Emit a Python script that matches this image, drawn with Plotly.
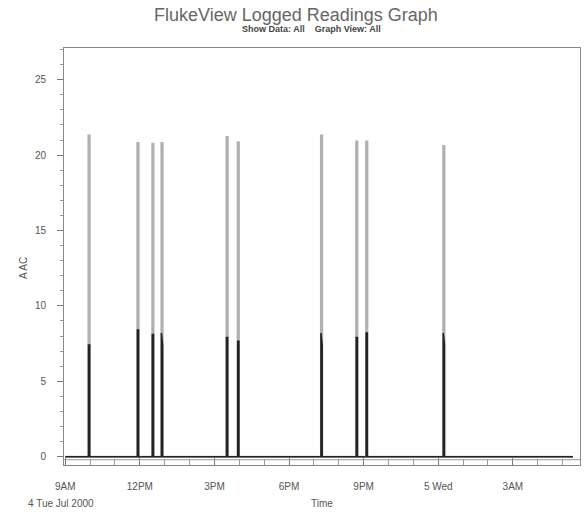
import plotly.graph_objects as go
import pandas as pd

# ---- data ----
log_start = "2000-07-04 09:00"
log_end = "2000-07-05 05:25"
event_start = ["2000-07-04 09:56", "2000-07-04 11:54", "2000-07-04 12:30", "2000-07-04 12:52",
               "2000-07-04 15:29", "2000-07-04 15:56", "2000-07-04 19:17", "2000-07-04 20:42",
               "2000-07-04 21:06", "2000-07-05 00:12"]
event_minutes = [3, 3, 3, 3, 3, 3, 3, 3, 3, 3]
event_max = [21.3, 20.8, 20.75, 20.8, 21.2, 20.85, 21.3, 20.9, 20.9, 20.6]
event_avg_a = [7.4, 8.4, 8.1, 8.2, 7.9, 7.65, 8.2, 7.9, 8.2, 8.2]
event_avg_b = [7.4, 8.4, 8.1, 7.4, 7.9, 7.65, 7.35, 7.9, 8.2, 7.5]

tick_vals = ["2000-07-04 09:00", "2000-07-04 12:00", "2000-07-04 15:00", "2000-07-04 18:00",
             "2000-07-04 21:00", "2000-07-05 00:00", "2000-07-05 03:00"]
tick_text = ["9AM", "12PM", "3PM", "6PM", "9PM", "5 Wed", "3AM"]
y_tick_vals = [0, 5, 10, 15, 20, 25]

# ---- build series from the event table ----
mx_t, mx_v, av_t, av_v = [pd.Timestamp(log_start)], [0], [pd.Timestamp(log_start)], [0]
for s, d, m, a1, a2 in zip(event_start, event_minutes, event_max, event_avg_a, event_avg_b):
    t0 = pd.Timestamp(s)
    t1 = t0 + pd.Timedelta(minutes=d)
    mx_t += [t0, t0, t1, t1]
    mx_v += [0, m, m, 0]
    av_t += [t0, t0, t1, t1]
    av_v += [0, a1, a2, 0]
mx_t.append(pd.Timestamp(log_end)); mx_v.append(0)
av_t.append(pd.Timestamp(log_end)); av_v.append(0)

fig = go.Figure()
fig.add_trace(go.Scatter(x=mx_t, y=mx_v, mode="lines",
                         line=dict(color="#b0b0b0", width=2), hoverinfo="skip"))
fig.add_trace(go.Scatter(x=av_t, y=av_v, mode="lines",
                         line=dict(color="#222222", width=1.5), hoverinfo="skip"))

fig.add_shape(type="line", xref="paper", yref="y", x0=0, x1=1, y0=-0.2, y1=-0.2,
              line=dict(color="#999999", width=1))

font = "Liberation Sans, Arial, sans-serif"
fig.update_layout(
    width=587, height=512,
    margin=dict(l=64, r=7, t=48, b=47, autoexpand=False),
    paper_bgcolor="white", plot_bgcolor="white",
    showlegend=False,
    font=dict(family=font, color="#555555", size=10),
    xaxis=dict(
        type="date", automargin=False,
        range=["2000-07-04 08:57", "2000-07-05 05:42"],
        tickvals=tick_vals, ticktext=tick_text,
        ticks="inside", ticklen=8, tickcolor="#777777",
        minor=dict(dtick=3600000, ticks="inside", ticklen=6, tickcolor="#999999"),
        showgrid=False, zeroline=False,
        showline=True, mirror=True, linecolor="#888888", linewidth=1,
        ticklabelstandoff=12,
        tickfont=dict(size=10, color="#555555"),
        title=dict(text="Time", font=dict(size=10, color="#555555"), standoff=8),
    ),
    yaxis=dict(
        automargin=False,
        range=[-0.55, 27.1],
        tickvals=y_tick_vals,
        ticks="outside", ticklen=6, tickcolor="#777777",
        minor=dict(dtick=1, tick0=0, ticks="outside", ticklen=3, tickcolor="#999999"),
        showgrid=False, zeroline=False,
        showline=True, mirror=True, linecolor="#888888", linewidth=1,
        ticklabelstandoff=9,
        tickfont=dict(size=10, color="#555555"),
    ),
)

fig.add_annotation(text="FlukeView Logged Readings Graph", xref="paper", yref="paper",
                   x=(296 - 64) / 516, y=1, yshift=33, xanchor="center", yanchor="middle",
                   showarrow=False, font=dict(family=font, size=18, color="#666666"))
fig.add_annotation(text="<b>Show Data: All&nbsp;&nbsp;&nbsp;&nbsp;Graph View: All</b>", xref="paper", yref="paper",
                   x=(311 - 64) / 516, y=1, yshift=19, xanchor="center", yanchor="middle",
                   showarrow=False, font=dict(family=font, size=9, color="#444444"))
fig.add_annotation(text="A AC", xref="paper", yref="paper",
                   x=(23 - 64) / 516, y=(465 - 268) / 417, xanchor="center", yanchor="middle",
                   textangle=-90, showarrow=False, font=dict(family=font, size=10, color="#555555"))
fig.add_annotation(text="4 Tue Jul 2000", x=tick_vals[0], xref="x", y=0, yref="paper",
                   yshift=-38, xshift=-4, showarrow=False, xanchor="center", yanchor="middle",
                   font=dict(size=10, color="#555555"))

fig.write_html("out.html", config={"displayModeBar": False},
               post_script="document.body.style.margin='0';document.body.style.overflow='hidden';")
